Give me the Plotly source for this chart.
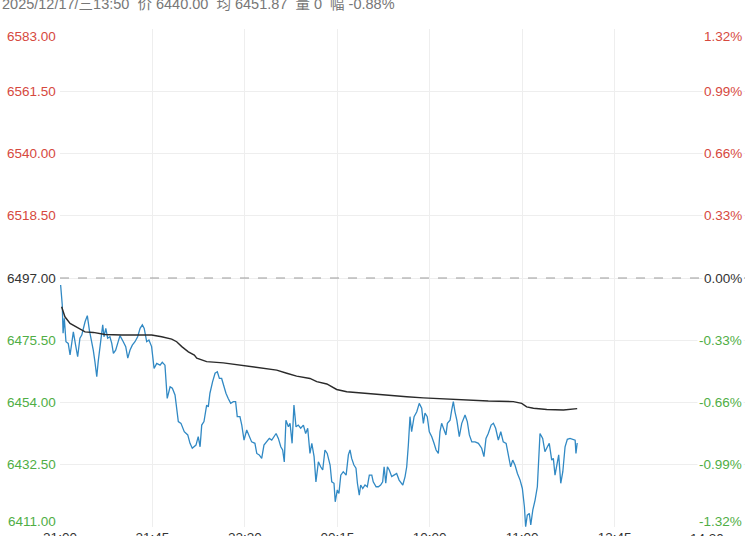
import plotly.graph_objects as go

# minutes since 21:00 open (trading minutes only), price and running average
minutes = [0.3, 1.1, 1.5, 2.1, 2.9, 4.0, 4.9, 6.5, 7.6, 8.6, 9.7, 10.6, 12.2, 13.3, 14.3, 15.4,
           16.2, 17.0, 17.9, 18.6, 19.5, 20.3, 20.8, 21.4, 22.3, 23.2, 24.3, 25.2, 26.0, 27.1,
           28.4, 29.2, 30.8, 32.0, 33.0, 34.1, 35.2, 36.5, 37.8, 39.0, 40.1, 41.0, 42.2, 43.3,
           44.6, 45.8, 47.1, 48.7, 49.8, 51.1, 52.2, 53.6, 54.7, 56.0, 57.6, 58.9, 60.5, 62.2,
           63.3, 64.4, 66.2, 67.3, 68.2, 69.0, 70.1, 71.4, 72.2, 73.0, 74.3, 75.5, 76.6, 77.6,
           78.7, 79.5, 80.8, 81.9, 83.1, 84.4, 85.5, 86.3, 87.6, 88.5, 89.6, 90.9, 92.2, 93.3,
           94.9, 95.8, 97.0, 98.2, 99.3, 100.6, 101.9, 103.1, 104.2, 105.2, 106.3, 107.5, 108.4,
           109.2, 110.0, 111.2, 112.0, 113.0, 113.9, 114.9, 116.0, 117.2, 118.5, 119.6, 120.6,
           121.7, 122.6, 123.7, 124.6, 125.8, 126.9, 127.9, 129.0, 130.1, 131.5, 132.3, 133.4,
           134.0, 135.0, 135.8, 136.7, 137.9, 139.3, 140.4, 141.2, 142.0, 143.1, 144.1, 144.8,
           145.7, 146.4, 147.4, 148.5, 149.6, 150.6, 151.8, 152.5, 153.9, 155.0, 156.1, 157.1,
           157.8, 158.6, 159.4, 160.3, 161.5, 162.6, 163.9, 165.1, 165.9, 166.9, 168.0, 168.8,
           169.6, 170.4, 171.2, 172.4, 173.7, 174.9, 176.1, 176.9, 177.7, 178.8, 179.8, 181.0,
           182.1, 183.1, 184.2, 185.0, 185.8, 187.0, 187.9, 188.6, 189.9, 190.7, 191.5, 192.3,
           193.2, 194.4, 195.6, 197.2, 198.3, 199.3, 200.5, 202.1, 203.7, 205.3, 206.4, 207.4,
           208.5, 209.9, 211.0, 212.1, 213.4, 214.6, 215.8, 217.2, 218.3, 219.4, 220.4, 221.5,
           222.7, 224.0, 225.1, 226.1, 226.7, 227.5, 228.5, 229.2, 230.2, 231.3, 232.4, 233.7,
           235.0, 236.1, 237.3, 238.2, 239.4, 240.2, 241.0, 241.8, 242.8, 243.8, 244.8, 245.9,
           247.0, 248.3, 249.6, 250.8, 251.2, 251.8]
price = [6494.6, 6487.7, 6477.9, 6483.1, 6475.0, 6474.4, 6470.4, 6478.4, 6473.8, 6469.8, 6476.2,
         6477.3, 6481.9, 6484.0, 6479.0, 6475.6, 6472.1, 6468.1, 6462.9, 6468.1, 6472.7, 6477.3,
         6480.8, 6476.7, 6479.6, 6476.2, 6476.7, 6474.4, 6471.0, 6472.1, 6475.6, 6477.1, 6475.0,
         6473.3, 6469.3, 6472.1, 6473.8, 6475.0, 6476.7, 6479.6, 6480.8, 6479.6, 6475.0, 6475.6,
         6473.3, 6465.8, 6467.5, 6466.9, 6467.9, 6466.9, 6455.4, 6459.4, 6458.9, 6456.6, 6447.4,
         6446.8, 6443.9, 6442.8, 6439.9, 6438.2, 6439.3, 6442.2, 6438.7, 6446.2, 6447.4, 6453.1,
         6452.5, 6457.2, 6461.2, 6464.1, 6464.6, 6462.3, 6462.3, 6460.0, 6457.2, 6455.4, 6453.7,
         6454.3, 6454.3, 6449.1, 6449.1, 6446.2, 6441.0, 6444.5, 6442.2, 6440.4, 6439.9, 6436.4,
         6435.9, 6434.7, 6439.3, 6440.4, 6441.6, 6441.0, 6442.2, 6443.3, 6441.6, 6438.7, 6437.6,
         6433.5, 6447.9, 6445.6, 6446.8, 6439.9, 6453.1, 6445.6, 6446.2, 6445.1, 6446.2, 6443.3,
         6445.1, 6436.4, 6439.9, 6435.3, 6426.6, 6433.5, 6431.8, 6430.7, 6437.6, 6436.4, 6432.4,
         6426.6, 6426.1, 6419.7, 6423.8, 6422.6, 6428.9, 6430.1, 6428.9, 6435.9, 6437.6, 6434.7,
         6432.4, 6431.3, 6426.1, 6422.0, 6425.5, 6424.3, 6425.5, 6424.9, 6428.9, 6428.9, 6426.6,
         6424.9, 6424.9, 6425.5, 6426.6, 6431.8, 6426.1, 6431.8, 6430.7, 6428.4, 6428.9, 6429.5,
         6427.2, 6426.6, 6425.5, 6428.4, 6431.8, 6439.3, 6449.1, 6443.9, 6449.1, 6450.8, 6453.7,
         6452.0, 6446.8, 6450.3, 6449.1, 6443.9, 6442.2, 6439.9, 6437.6, 6436.4, 6443.9, 6446.8,
         6444.5, 6442.8, 6446.8, 6447.9, 6451.4, 6454.3, 6450.8, 6447.9, 6442.2, 6446.8, 6449.7,
         6447.4, 6442.8, 6440.4, 6440.4, 6439.9, 6438.2, 6435.3, 6441.6, 6443.3, 6446.2, 6446.8,
         6445.1, 6441.0, 6443.9, 6440.4, 6439.9, 6436.4, 6431.8, 6434.1, 6432.4, 6429.5, 6427.2,
         6424.3, 6418.0, 6411.1, 6415.1, 6415.7, 6411.7, 6416.9, 6420.3, 6424.9, 6443.3, 6441.6,
         6437.0, 6438.7, 6439.9, 6434.1, 6434.7, 6428.9, 6432.4, 6435.9, 6426.1, 6430.1, 6438.7,
         6441.3, 6441.6, 6441.3, 6441.0, 6436.4, 6440.0]

avg_minutes = [0.8, 2.4, 4.9, 8.9, 12.2, 16.2, 18.6, 21.9, 30.0, 38.1, 44.6, 49.5, 54.4, 56.8,
               59.3, 62.5, 65.4, 66.6, 71.4, 79.5, 87.6, 95.8, 105.5, 110.4, 115.2, 121.7, 125.0,
               129.9, 134.7, 139.6, 144.5, 152.5, 160.7, 168.8, 176.9, 185.0, 193.2, 201.2, 208.5,
               220.7, 224.8, 227.2, 230.5, 237.0, 245.1, 251.8]
avg_price = [6487.1, 6483.6, 6481.3, 6479.6, 6478.4, 6478.2, 6477.9, 6477.5, 6477.3, 6477.3,
             6477.3, 6476.7, 6475.9, 6475.0, 6473.3, 6471.5, 6470.4, 6469.3, 6468.1, 6467.7,
             6466.9, 6466.1, 6465.2, 6464.1, 6463.1, 6462.3, 6461.2, 6460.4, 6458.5, 6457.7,
             6457.4, 6456.9, 6456.3, 6456.0, 6455.6, 6455.3, 6455.1, 6454.8, 6454.5, 6454.3,
             6453.7, 6452.5, 6452.0, 6451.6, 6451.4, 6451.9]

prev_close = 6497.00
price_ticks = [6583.00, 6561.50, 6540.00, 6518.50, 6497.00, 6475.50, 6454.00, 6432.50, 6411.00]
pct_labels = ["1.32%", "0.99%", "0.66%", "0.33%", "0.00%", "-0.33%", "-0.66%", "-0.99%", "-1.32%"]
# last time label has no grid line under it in the original
time_ticks = [0, 45, 90, 135, 180, 225, 270]
time_labels = ["21:00", "21:45", "22:30", "00:15", "10:00", "11:00", "13:45"]
last_tick, last_label = 315, "14:30"

header = ("2025/12/17/三13:50\u00a0\u00a0价 6440.00\u00a0\u00a0均 6451.87"
          "\u00a0\u00a0量 0\u00a0\u00a0幅 -0.88%")

RED = "#d6493e"
GREEN = "#4fae45"
DARK = "#333333"
FONT = "Liberation Sans, Arial, Noto Sans CJK SC"

fig = go.Figure()

fig.add_trace(go.Scatter(x=minutes, y=price, mode="lines",
                         line=dict(color="#3189c4", width=1.3), hoverinfo="skip"))
fig.add_trace(go.Scatter(x=avg_minutes, y=avg_price, mode="lines",
                         line=dict(color="#2a2a2a", width=1.4), hoverinfo="skip"))

fig.add_hline(y=prev_close, line=dict(color="#9a9a9a", width=1, dash="dash"))


def label_color(v):
    if v > prev_close:
        return RED
    if v < prev_close:
        return GREEN
    return DARK


for i, (v, pct) in enumerate(zip(price_ticks, pct_labels)):
    shift = 0
    if i == 0:
        shift = -7
    elif i == len(price_ticks) - 1:
        shift = 6
    c = label_color(v)
    fig.add_annotation(x=0, xref="paper", y=v, yref="y", text=f"{v:.2f}",
                       xanchor="right", yanchor="middle", xshift=-2, yshift=shift,
                       showarrow=False, font=dict(size=13.5, color=c, family=FONT))
    fig.add_annotation(x=1, xref="paper", y=v, yref="y", text=pct,
                       xanchor="right", yanchor="middle", xshift=-1, yshift=shift,
                       showarrow=False, bgcolor="white", borderpad=1,
                       font=dict(size=13.5, color=c, family=FONT))

fig.add_annotation(x=last_tick, xref="x", y=0, yref="paper", text=last_label,
                   xanchor="center", yanchor="top", yshift=-2, showarrow=False,
                   font=dict(size=13.5, color=DARK, family=FONT))

fig.add_annotation(x=0, xref="paper", y=1, yref="paper", text=header,
                   xanchor="left", yanchor="middle", xshift=-60, yshift=25,
                   showarrow=False, font=dict(size=14.5, color="#777777", family=FONT))

fig.update_xaxes(range=[0, 333.5], tickvals=time_ticks, ticktext=time_labels,
                 showgrid=True, gridcolor="#eeeeee", gridwidth=1, zeroline=False,
                 showline=False, ticks="", automargin=False,
                 tickfont=dict(size=13.5, color=DARK, family=FONT))
fig.update_yaxes(range=[6411, 6583], tickvals=price_ticks, showticklabels=False,
                 showgrid=True, gridcolor="#eeeeee", gridwidth=1, zeroline=False,
                 showline=False, ticks="", automargin=False)

fig.update_layout(width=750, height=536, margin=dict(l=60, r=5, t=29, b=9),
                  plot_bgcolor="white", paper_bgcolor="white", showlegend=False,
                  font=dict(family=FONT))

# page body has a default 8px margin; drop it so the chart sits at the window's corner
fig.write_html("out.html", config={"displayModeBar": False},
               post_script="document.body.style.margin='0';")
